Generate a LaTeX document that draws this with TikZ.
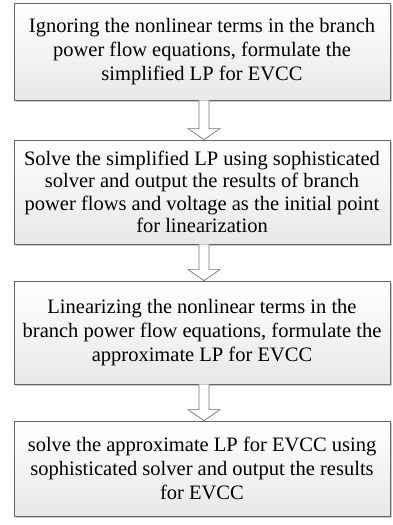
\documentclass[tikz,border=0pt]{standalone}
\usepackage{fontspec}
\setmainfont{Liberation Serif}
\usetikzlibrary{calc,shadows}
\tikzset{
  stepbox/.style={draw=black!60, line width=0.8pt, top color=white, bottom color=black!9,
    drop shadow={shadow xshift=1.6pt, shadow yshift=-1.6pt, fill=black!35, opacity=0.6},
    minimum width=376pt, align=center, inner sep=0pt,
    font=\fontsize{20.5}{24}\selectfont},
  flowarrow/.style={draw=black!55, line width=0.7pt, fill=white}
}
\begin{document}
\begin{tikzpicture}[x=1pt,y=1pt]
\useasboundingbox (0,0) rectangle (392,-525);
\node[stepbox, minimum height=97pt] (a) at (202,-51.5)
  {Ignoring the nonlinear terms in the branch\\power flow equations, formulate the\\simplified LP for EVCC};
\node[stepbox, minimum height=104pt, font=\fontsize{20.5}{22.5}\selectfont] (b) at (202,-192)
  {Solve the simplified LP using sophisticated\\solver and output the results of branch\\power flows and voltage as the initial point\\for linearization};
\node[stepbox, minimum height=103pt] (c) at (202,-332.5)
  {Linearizing the nonlinear terms in the\\branch power flow equations, formulate the\\approximate LP for EVCC};
\node[stepbox, minimum height=95pt] (d) at (202,-468.5)
  {solve the approximate LP for EVCC using\\sophisticated solver and output the results\\for EVCC};
\foreach \u/\v in {a/b,b/c,c/d}{
  \draw[flowarrow] ($(\u.south)+(-3,0)$) -- ($(\v.north)+(-3,11)$) -- ($(\v.north)+(-14,11)$)
    -- ($(\v.north)+(2,0)$) -- ($(\v.north)+(18,11)$) -- ($(\v.north)+(7,11)$) -- ($(\u.south)+(7,0)$);
}
\end{tikzpicture}
\end{document}
